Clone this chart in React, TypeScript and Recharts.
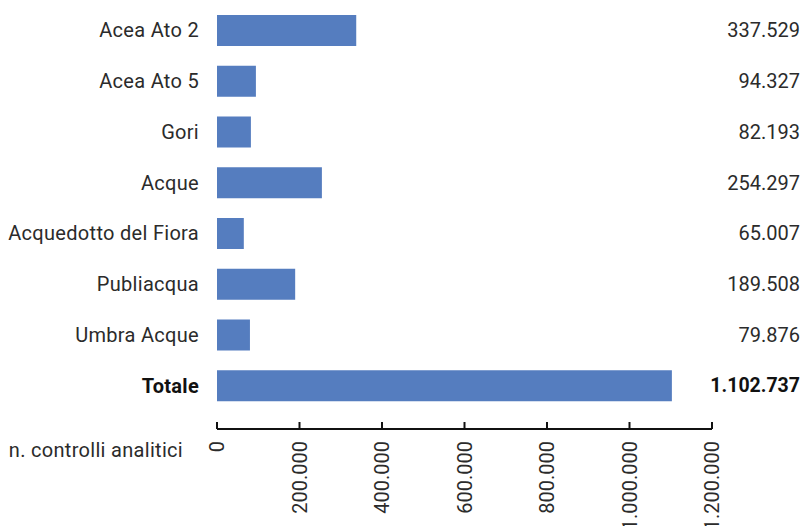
import React from 'react';
import { BarChart, Bar, XAxis, YAxis, Label } from 'recharts';

const categories = ['Acea Ato 2', 'Acea Ato 5', 'Gori', 'Acque', 'Acquedotto del Fiora', 'Publiacqua', 'Umbra Acque', 'Totale'];
const values = [337529, 94327, 82193, 254297, 65007, 189508, 79876, 1102737];
const xTicks = [0, 200000, 400000, 600000, 800000, 1000000, 1200000];
const axisTitle = 'n. controlli analitici';
const boldCategory = 'Totale';

const data = categories.map((name, i) => ({ name, value: values[i] }));

const fmt = (n: number) => String(n).replace(/\B(?=(\d{3})+(?!\d))/g, '.');

const FONT = 'Roboto, "Liberation Sans", sans-serif';
const TEXT = '#2b2b2b';
const BAR = '#557DBF';

const LeftTick = (props: any) => {
  const { x, y, payload } = props;
  const bold = payload.value === boldCategory;
  return (
    <text x={x} y={y} textAnchor="end" dominantBaseline="central" fontFamily={FONT} fontSize={20} letterSpacing={0.3}
      fontWeight={bold ? 700 : 400} fill={bold ? '#111' : TEXT}>
      {payload.value}
    </text>
  );
};

const RightTick = (props: any) => {
  const { x, y, payload, width } = props;
  const idx = categories.indexOf(payload.value);
  const bold = payload.value === boldCategory;
  const right = typeof width === 'number' ? x + width : x;
  return (
    <text x={right} y={y} textAnchor="end" dominantBaseline="central" fontFamily={FONT} fontSize={bold ? 19.5 : 20}
      fontWeight={bold ? 700 : 400} fill={bold ? '#111' : TEXT}>
      {idx >= 0 ? fmt(values[idx]) : ''}
    </text>
  );
};

const BottomTick = (props: any) => {
  const { x, y, payload } = props;
  return (
    <g>
      <line x1={x} y1={y} x2={x} y2={y - 7} stroke="#111" strokeWidth={2} />
      <text x={x} y={y + 12} transform={`rotate(-90, ${x}, ${y + 12})`} textAnchor="end" dominantBaseline="central"
        fontFamily={FONT} fontSize={20} fill={TEXT}>
        {fmt(payload.value)}
      </text>
    </g>
  );
};

const AxisTitle = (props: any) => {
  const vb = props.viewBox || {};
  return (
    <text x={vb.x - 34} y={vb.y + 21} textAnchor="end" dominantBaseline="central" fontFamily={FONT} fontSize={20}
      letterSpacing={0.3} fill={TEXT}>
      {axisTitle}
    </text>
  );
};

export default function App() {
  return (
    <div style={{ position: 'absolute', left: 0, top: 0, width: 803, height: 526, background: '#fff' }}>
      <BarChart width={803} height={526} data={data} layout="vertical" margin={{ top: 5, right: 3, bottom: 0, left: 0 }}
        barSize={31}>
        <XAxis type="number" domain={[0, 1200000]} ticks={xTicks} interval={0} height={97}
          axisLine={{ stroke: '#111', strokeWidth: 2 }} tickLine={false} tickSize={0} tickMargin={0}
          tick={<BottomTick />}>
          <Label content={<AxisTitle />} />
        </XAxis>
        <YAxis type="category" dataKey="name" width={217} axisLine={false} tickLine={false} tickSize={0}
          tickMargin={18} tick={<LeftTick />} interval={0} padding={{ top: 0, bottom: 18 }} />
        <YAxis yAxisId="right" orientation="right" type="category" dataKey="name" width={88} axisLine={false}
          tickLine={false} tickSize={0} tickMargin={0} tick={<RightTick />} interval={0} padding={{ top: 0, bottom: 18 }} />
        <Bar dataKey="value" fill={BAR} isAnimationActive={false} />
      </BarChart>
    </div>
  );
}
